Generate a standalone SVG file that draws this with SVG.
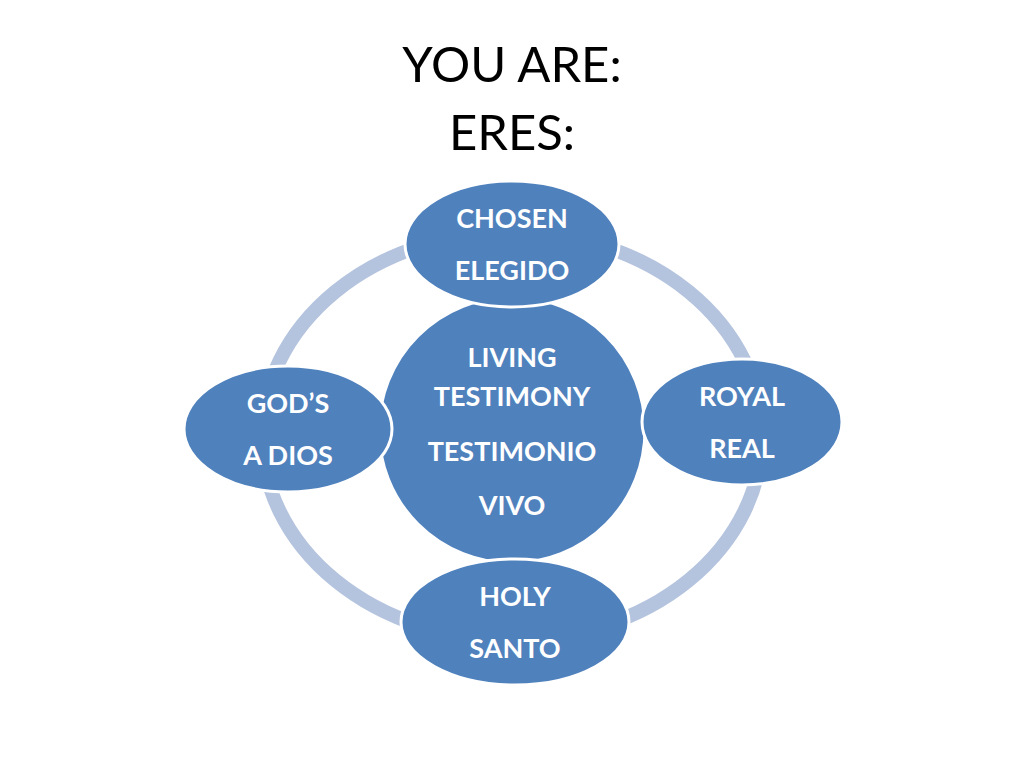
<svg xmlns="http://www.w3.org/2000/svg" width="1024" height="768" viewBox="0 0 1024 768">
<style>
.n{fill:#4F81BD;stroke:#fff;stroke-width:3}
.t{fill:#fff;font-family:Lato,"Open Sans",sans-serif;font-size:27px;font-weight:bold;text-anchor:middle}
.h{fill:#000;font-family:Lato,"Open Sans",sans-serif;font-size:49px;text-anchor:middle}
</style>
<rect width="1024" height="768" fill="#fff"/>
<text class="h" x="512" y="82">YOU ARE:</text>
<text class="h" x="512" y="150">ERES:</text>
<g id="connectors"><ellipse cx="512" cy="436" rx="250" ry="204" fill="none" stroke="#B4C3DE" stroke-width="14"/></g>
<g id="center"><circle class="n" cx="512" cy="430" r="133"/>
<text class="t" x="512" y="367">LIVING</text><text class="t" x="512" y="406">TESTIMONY</text>
<text class="t" x="512" y="461">TESTIMONIO</text><text class="t" x="512" y="515">VIVO</text></g>
<g id="top"><ellipse class="n" cx="512" cy="244" rx="107" ry="63"/>
<text class="t" x="512" y="228">CHOSEN</text><text class="t" x="512" y="280">ELEGIDO</text></g>
<g id="right"><ellipse class="n" cx="742" cy="422" rx="100" ry="63"/>
<text class="t" x="742" y="406">ROYAL</text><text class="t" x="742" y="458">REAL</text></g>
<g id="bottom"><ellipse class="n" cx="515" cy="622" rx="114" ry="63"/>
<text class="t" x="515" y="606">HOLY</text><text class="t" x="515" y="658">SANTO</text></g>
<g id="left"><ellipse class="n" cx="288" cy="429" rx="104" ry="63"/>
<text class="t" x="288" y="413">GOD’S</text><text class="t" x="288" y="465">A DIOS</text></g>
</svg>
